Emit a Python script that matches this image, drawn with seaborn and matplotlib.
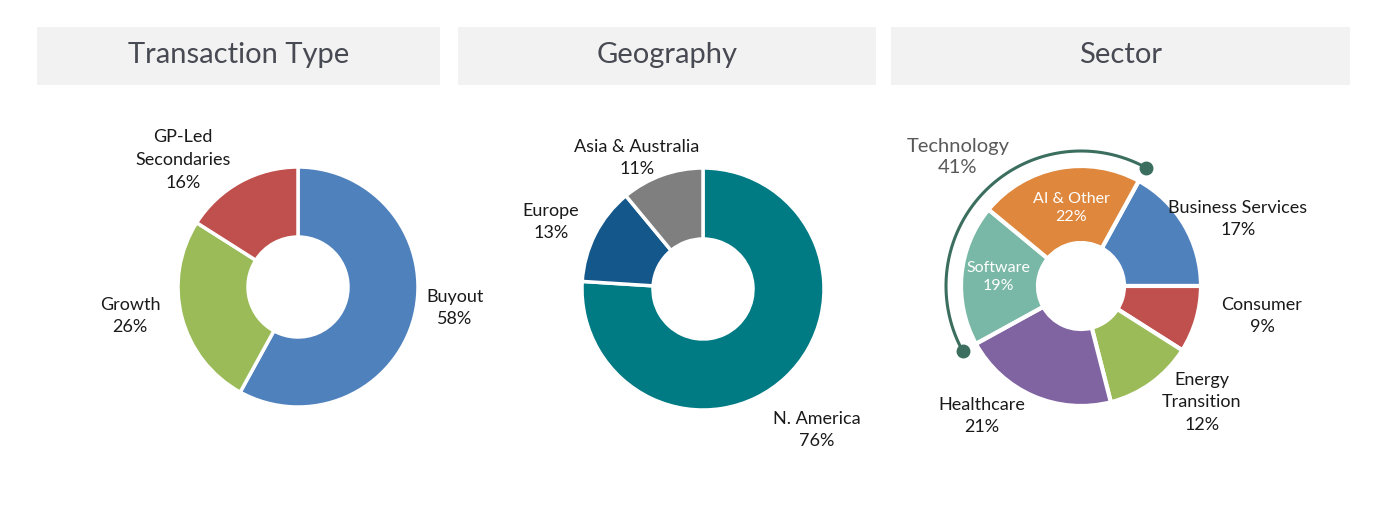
import numpy as np
import matplotlib
matplotlib.use("Agg")
import matplotlib.pyplot as plt
import seaborn as sns
from matplotlib.patches import Rectangle

# data
titles = ["Transaction Type", "Geography", "Sector"]

type_labels = ["Buyout", "Growth", "GP-Led\nSecondaries"]
type_values = [58, 26, 16]
type_colors = ["#4f81bd", "#9bbb59", "#c0504d"]

geo_labels = ["N. America", "Europe", "Asia & Australia"]
geo_values = [76, 13, 11]
geo_colors = ["#007a83", "#14578a", "#7f7f7f"]

sector_labels = ["Business Services", "Consumer", "Energy\nTransition",
                 "Healthcare", "Software", "AI & Other"]
sector_values = [17, 9, 12, 21, 19, 22]
sector_colors = ["#4f81bd", "#c0504d", "#9bbb59", "#8064a2", "#79b8a6", "#de873d"]

tech_label = "Technology"
tech_parts = ["Software", "AI & Other"]

sns.set_theme(style="white")
plt.rcParams["font.family"] = ["Lato", "DejaVu Sans"]

W, H = 1385, 512
fig = plt.figure(figsize=(W / 100, H / 100), dpi=100)
ax = fig.add_axes([0, 0, 1, 1])


def Y(y):
    return H - y


# header boxes
boxes = [(37, 440), (458, 876), (891, 1350)]
for (x0, x1), t in zip(boxes, titles):
    ax.add_patch(Rectangle((x0, Y(85)), x1 - x0, 58, facecolor="#f2f2f2",
                           edgecolor="none", zorder=0))
    ax.text((x0 + x1) / 2, Y(55), t, ha="center", va="center",
            fontsize=21, color="#474a52")

wp = dict(edgecolor="white", linewidth=2.5)

# transaction type donut
ax.pie(type_values, colors=type_colors, startangle=90, counterclock=False,
       radius=120, center=(298, Y(287)), wedgeprops=dict(width=70, **wp))
# geography donut
ax.pie(geo_values, colors=geo_colors, startangle=90, counterclock=False,
       radius=121, center=(703, Y(289)), wedgeprops=dict(width=71, **wp))
# sector donut
sec_center = (1081, Y(286))
sec_start = sector_values[0] * 3.6
ax.pie(sector_values, colors=sector_colors, startangle=sec_start, counterclock=False,
       radius=120, center=sec_center, wedgeprops=dict(width=77, edgecolor="white", linewidth=3))

# technology bracket arc (span of Software + AI & Other)
cum = np.cumsum([0] + sector_values)
i0 = sector_labels.index(tech_parts[0])
i1 = sector_labels.index(tech_parts[-1])
a_end = sec_start - cum[i0] * 3.6
a_beg = sec_start - cum[i1 + 1] * 3.6
theta = np.radians(np.linspace(a_beg, a_end, 200))
r_arc = 135
ax.plot(sec_center[0] + r_arc * np.cos(theta), sec_center[1] + r_arc * np.sin(theta),
        color="#3b6e5e", lw=2.2, solid_capstyle="round")
ax.plot(sec_center[0] + r_arc * np.cos(theta[[0, -1]]),
        sec_center[1] + r_arc * np.sin(theta[[0, -1]]),
        "o", color="#3b6e5e", ms=9)
tech_total = sum(sector_values[i0:i1 + 1])

# labels
lab = dict(ha="center", va="center", fontsize=13, color="#1a1a1a", linespacing=1.5)
type_pos = [(455, 308), (130, 316), (183, 160)]
for l, v, (x, y) in zip(type_labels, type_values, type_pos):
    ax.text(x, Y(y), f"{l}\n{v}%", **lab)

geo_pos = [(817, 430), (551, 222), (637, 158)]
for l, v, (x, y) in zip(geo_labels, geo_values, geo_pos):
    ax.text(x, Y(y), f"{l}\n{v}%", **lab)

sector_pos = [(1238, 219), (1262, 316), (1202, 402), (982, 416), (998, 277), (1071, 208)]
for l, v, (x, y) in zip(sector_labels, sector_values, sector_pos):
    if l in tech_parts:
        ax.text(x, Y(y), f"{l}\n{v}%", ha="center", va="center", fontsize=11.5,
                color="white", linespacing=1.4)
    else:
        ax.text(x, Y(y), f"{l}\n{v}%", **lab)

ax.text(958, Y(157), f"{tech_label}\n{tech_total}%", ha="center", va="center",
        fontsize=14.5, color="#595959", linespacing=1.35)

ax.set_xlim(0, W)
ax.set_ylim(0, H)
ax.set_aspect("equal")
ax.axis("off")

fig.savefig("out.png", dpi=100, facecolor="white")
